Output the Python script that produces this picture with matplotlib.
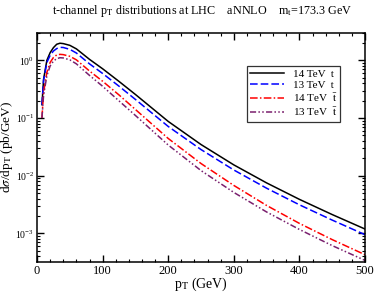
import matplotlib
matplotlib.use("Agg")
import matplotlib.pyplot as plt
from matplotlib.ticker import MultipleLocator, LogLocator

plt.rcParams['font.family'] = ['Liberation Serif', 'DejaVu Serif']
plt.rcParams['mathtext.fontset'] = 'stix'

# pT grid (GeV) and d sigma / d pT (pb/GeV)
pt = [7.5, 10, 15, 20, 25, 30, 35, 40, 50, 60, 80, 100, 125, 150, 200, 250, 300, 350, 400, 450, 500]
top14 = [0.17, 0.47, 1.0, 1.36, 1.66, 1.9, 1.98, 1.95, 1.82, 1.58, 1.04, 0.714, 0.431, 0.256, 0.0873,
         0.0347, 0.0154, 0.0075, 0.00389, 0.00212, 0.00119]
top13 = [0.17, 0.45, 0.92, 1.22, 1.45, 1.6, 1.68, 1.67, 1.55, 1.34, 0.869, 0.592, 0.356, 0.210, 0.0714,
         0.0284, 0.01256, 0.00607, 0.00313, 0.0017, 0.00095]
anti14 = [0.10, 0.28, 0.62, 0.92, 1.12, 1.24, 1.27, 1.256, 1.175, 1.02, 0.653, 0.434, 0.251, 0.1406, 0.0442,
          0.01626, 0.00678, 0.00305, 0.00149, 0.00078, 0.000427]
anti13 = [0.10, 0.25, 0.54, 0.8, 0.97, 1.07, 1.11, 1.10, 1.02, 0.869, 0.548, 0.355, 0.198, 0.1107, 0.034,
          0.01227, 0.00513, 0.00235, 0.00117, 0.000614, 0.00034]

fig = plt.figure(figsize=(3.74, 2.93), dpi=100)
ax = fig.add_axes([0.099, 0.106, 0.877, 0.782])

lw = 1.1
ax.plot(pt, top14, color='black', lw=lw, ls='-', label='14 TeV  t')
ax.plot(pt, top13, color='blue', lw=lw, ls=(0, (5, 2)), label='13 TeV  t')
ax.plot(pt, anti14, color='red', lw=lw, ls=(0, (5, 1.5, 1, 1.5)), label=r'14 TeV  $\bar{\rm t}$')
ax.plot(pt, anti13, color='#7a1f6e', lw=lw, ls=(0, (4, 1.5, 1, 1.5, 1, 1.5)), label=r'13 TeV  $\bar{\rm t}$')

ax.set_yscale('log')
ax.set_xlim(0, 500)
ax.set_ylim(3.2e-4, 3.0)

ax.xaxis.set_major_locator(MultipleLocator(100))
ax.xaxis.set_minor_locator(MultipleLocator(20))
ax.yaxis.set_major_locator(LogLocator(base=10))
ax.yaxis.set_minor_locator(LogLocator(base=10, subs=range(2, 10)))
ax.yaxis.set_minor_formatter(plt.NullFormatter())

ax.tick_params(which='both', direction='in', top=True, right=True, labelsize=9, pad=2)
ax.tick_params(which='major', length=5, width=1)
ax.tick_params(which='minor', length=2.5, width=0.8)
ax.tick_params(axis='y', labelsize=7)
for s in ax.spines.values():
    s.set_linewidth(1.1)

ax.set_xlabel(r'p$_{\rm T}$ (GeV)', fontsize=10, labelpad=-1)
ax.set_ylabel(r'd$\sigma$/dp$_{\rm T}$ (pb/GeV)', fontsize=9.5)
ax.yaxis.set_label_coords(-0.066, 0.5)
fig.text(0.54, 0.962, r't-channel p$_{\rm T}$ distributions at LHC    aNNLO    m$_{\rm t}$=173.3 GeV',
         ha='center', va='center', fontsize=8.7)

leg = ax.legend(loc='upper left', bbox_to_anchor=(0.64, 0.855), fontsize=8, frameon=True,
                fancybox=False, edgecolor='black', handlelength=3, handletextpad=0.8,
                labelspacing=0.1, borderpad=0.3, borderaxespad=0)
leg.get_frame().set_linewidth(0.9)

fig.savefig('out.png', dpi=100)
